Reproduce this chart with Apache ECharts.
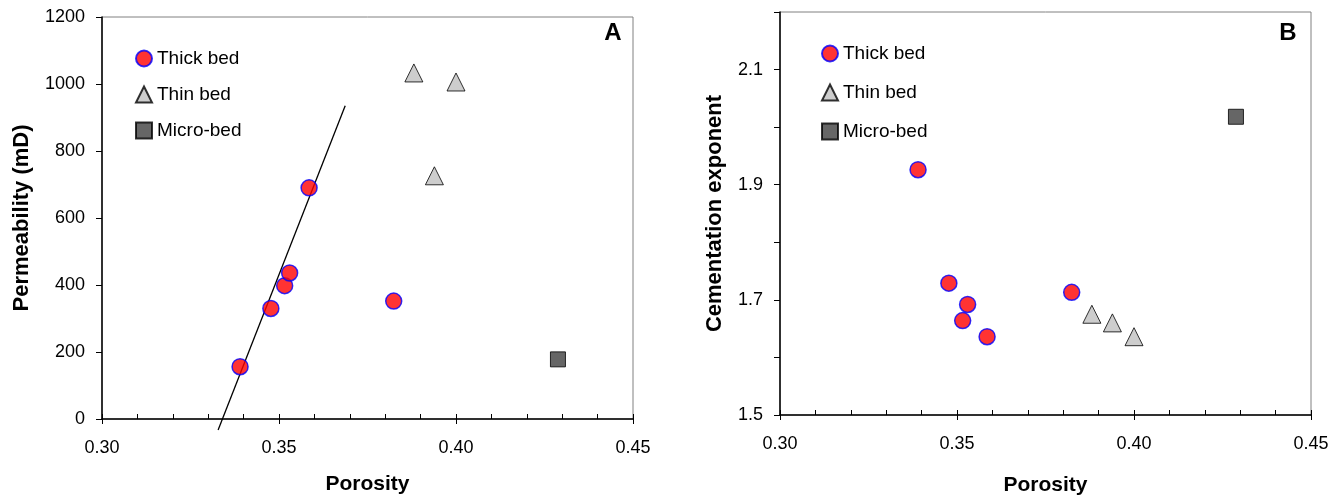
<!DOCTYPE html>
<html lang="en">
<head>
  <meta charset="UTF-8">
  <title>Porosity vs permeability and cementation exponent</title>
  <style>
    * { margin:0; padding:0; box-sizing:border-box; }
    body { background:#fff; }
    #chart { width:1342px; height:502px; }
  </style>
  <script src="https://cdn.jsdelivr.net/npm/echarts@6/dist/echarts.min.js"></script>
</head>
<body>
  <div id="chart"></div>
  <script>
    // porosity of each sample group (same samples in both panels)
    const thickPorosity = [0.3390, 0.3477, 0.3516, 0.3530, 0.3585, 0.3824];
    const thinPorosity  = [0.3881, 0.3939, 0.4000];
    const microPorosity = [0.4288];

    // panel A: permeability (mD)
    const thickPerm = [156, 330, 398, 436, 690, 352];
    const thinPerm  = [1033, 726, 1006];
    const microPerm = [178];

    // panel A: fitted trend line through thick-bed points
    const fitX = [0.3328, 0.3687];
    const fitY = [-33, 935];

    // panel B: cementation exponent
    const thickM = [1.926, 1.729, 1.664, 1.692, 1.636, 1.713];
    const thinM  = [1.675, 1.660, 1.636];
    const microM = [2.018];

    const legendNames = ['Thick bed', 'Thin bed', 'Micro-bed'];

    const FONT = 'Liberation Sans, Arial, sans-serif';
    const pairs = (xs, ys) => xs.map((x, i) => [x, ys[i]]);

    const thickStyle = { color: '#ff0000', borderColor: '#0000ff', borderWidth: 1.5 };
    const thinStyle  = { color: '#c0c0c0', borderColor: '#000', borderWidth: 1 };
    const microStyle = { color: '#404040', borderColor: '#000', borderWidth: 1 };

    function xAxes(grid) {
      return [
        {
          gridIndex: grid, type: 'value', min: 0.30, max: 0.45, interval: 0.01,
          name: 'Porosity', nameLocation: 'middle', nameGap: grid === 0 ? 55 : 60,
          nameTextStyle: { fontFamily: FONT, fontSize: 21, fontWeight: 'bold', color: '#000' },
          axisLine: { lineStyle: { color: '#000', width: 1.5 } },
          axisTick: { inside: true, length: 5, lineStyle: { color: '#000' } },
          axisLabel: {
            margin: 20, fontFamily: FONT, fontSize: 18, color: '#000',
            formatter: v => Math.round(v * 100) % 5 === 0 ? v.toFixed(2) : ''
          },
          splitLine: { show: false }
        },
        {
          gridIndex: grid, type: 'value', min: 0.30, max: 0.45, interval: 0.05, position: 'bottom',
          axisLine: { show: false },
          axisTick: { length: 5, lineStyle: { color: '#000' } },
          axisLabel: { show: false },
          splitLine: { show: false }
        }
      ];
    }

    const chart = echarts.init(document.getElementById('chart'));
    chart.setOption({
      animation: false,
      grid: [
        { left: 102, right: 709, top: 17, bottom: 83, show: true, borderColor: '#808080', borderWidth: 1 },
        { left: 780, right: 31, top: 12, bottom: 87, show: true, borderColor: '#808080', borderWidth: 1 }
      ],
      legend: [
        {
          data: legendNames, orient: 'vertical', left: 130, top: 44, itemWidth: 16, itemHeight: 16,
          itemGap: 17, selectedMode: false,
          textStyle: { fontFamily: FONT, fontSize: 19, color: '#000' }
        },
        {
          data: legendNames, orient: 'vertical', left: 816, top: 39, itemWidth: 16, itemHeight: 16,
          itemGap: 20, selectedMode: false,
          textStyle: { fontFamily: FONT, fontSize: 19, color: '#000' }
        }
      ],
      xAxis: xAxes(0).concat(xAxes(1)),
      yAxis: [
        {
          gridIndex: 0, type: 'value', min: 0, max: 1200, interval: 200,
          name: 'Permeability (mD)', nameLocation: 'middle', nameGap: 69,
          nameTextStyle: { fontFamily: FONT, fontSize: 22, fontWeight: 'bold', color: '#000' },
          axisLine: { show: true, lineStyle: { color: '#000', width: 1.5 } },
          axisTick: { show: true, length: 6, lineStyle: { color: '#000' } },
          axisLabel: { margin: 17, fontFamily: FONT, fontSize: 18, color: '#000', formatter: v => String(v) },
          splitLine: { show: false }
        },
        {
          gridIndex: 1, type: 'value', min: 1.5, max: 2.2, interval: 0.1,
          name: 'Cementation exponent', nameLocation: 'middle', nameGap: 54,
          nameTextStyle: { fontFamily: FONT, fontSize: 22, fontWeight: 'bold', color: '#000' },
          axisLine: { show: true, lineStyle: { color: '#000', width: 1.5 } },
          axisTick: { show: true, length: 6, lineStyle: { color: '#000' } },
          axisLabel: {
            margin: 17, fontFamily: FONT, fontSize: 18, color: '#000',
            formatter: v => Math.round(v * 10) % 2 === 1 ? v.toFixed(1) : ''
          },
          splitLine: { show: false }
        }
      ],
      graphic: [
        { type: 'text', x: 613, y: 33, style: { text: 'A', font: 'bold 24px ' + FONT, fill: '#000', align: 'center', verticalAlign: 'middle' } },
        { type: 'text', x: 1288, y: 33, style: { text: 'B', font: 'bold 24px ' + FONT, fill: '#000', align: 'center', verticalAlign: 'middle' } }
      ],
      series: [
        {
          name: 'Fit', type: 'line', xAxisIndex: 0, yAxisIndex: 0, data: pairs(fitX, fitY),
          symbol: 'none', clip: false, lineStyle: { color: '#000', width: 1.3 }, z: 1
        },
        { name: 'Thick bed', type: 'scatter', xAxisIndex: 0, yAxisIndex: 0, data: pairs(thickPorosity, thickPerm),
          symbol: 'circle', symbolSize: 16, itemStyle: thickStyle, z: 3 },
        { name: 'Thin bed', type: 'scatter', xAxisIndex: 0, yAxisIndex: 0, data: pairs(thinPorosity, thinPerm),
          symbol: 'triangle', symbolSize: 18, itemStyle: thinStyle, z: 3 },
        { name: 'Micro-bed', type: 'scatter', xAxisIndex: 0, yAxisIndex: 0, data: pairs(microPorosity, microPerm),
          symbol: 'rect', symbolSize: 15, itemStyle: microStyle, z: 3 },
        { name: 'Thick bed', type: 'scatter', xAxisIndex: 2, yAxisIndex: 1, data: pairs(thickPorosity, thickM),
          symbol: 'circle', symbolSize: 16, itemStyle: thickStyle, z: 3 },
        { name: 'Thin bed', type: 'scatter', xAxisIndex: 2, yAxisIndex: 1, data: pairs(thinPorosity, thinM),
          symbol: 'triangle', symbolSize: 18, itemStyle: thinStyle, z: 3 },
        { name: 'Micro-bed', type: 'scatter', xAxisIndex: 2, yAxisIndex: 1, data: pairs(microPorosity, microM),
          symbol: 'rect', symbolSize: 15, itemStyle: microStyle, z: 3 }
      ]
    });
  </script>
</body>
</html>
